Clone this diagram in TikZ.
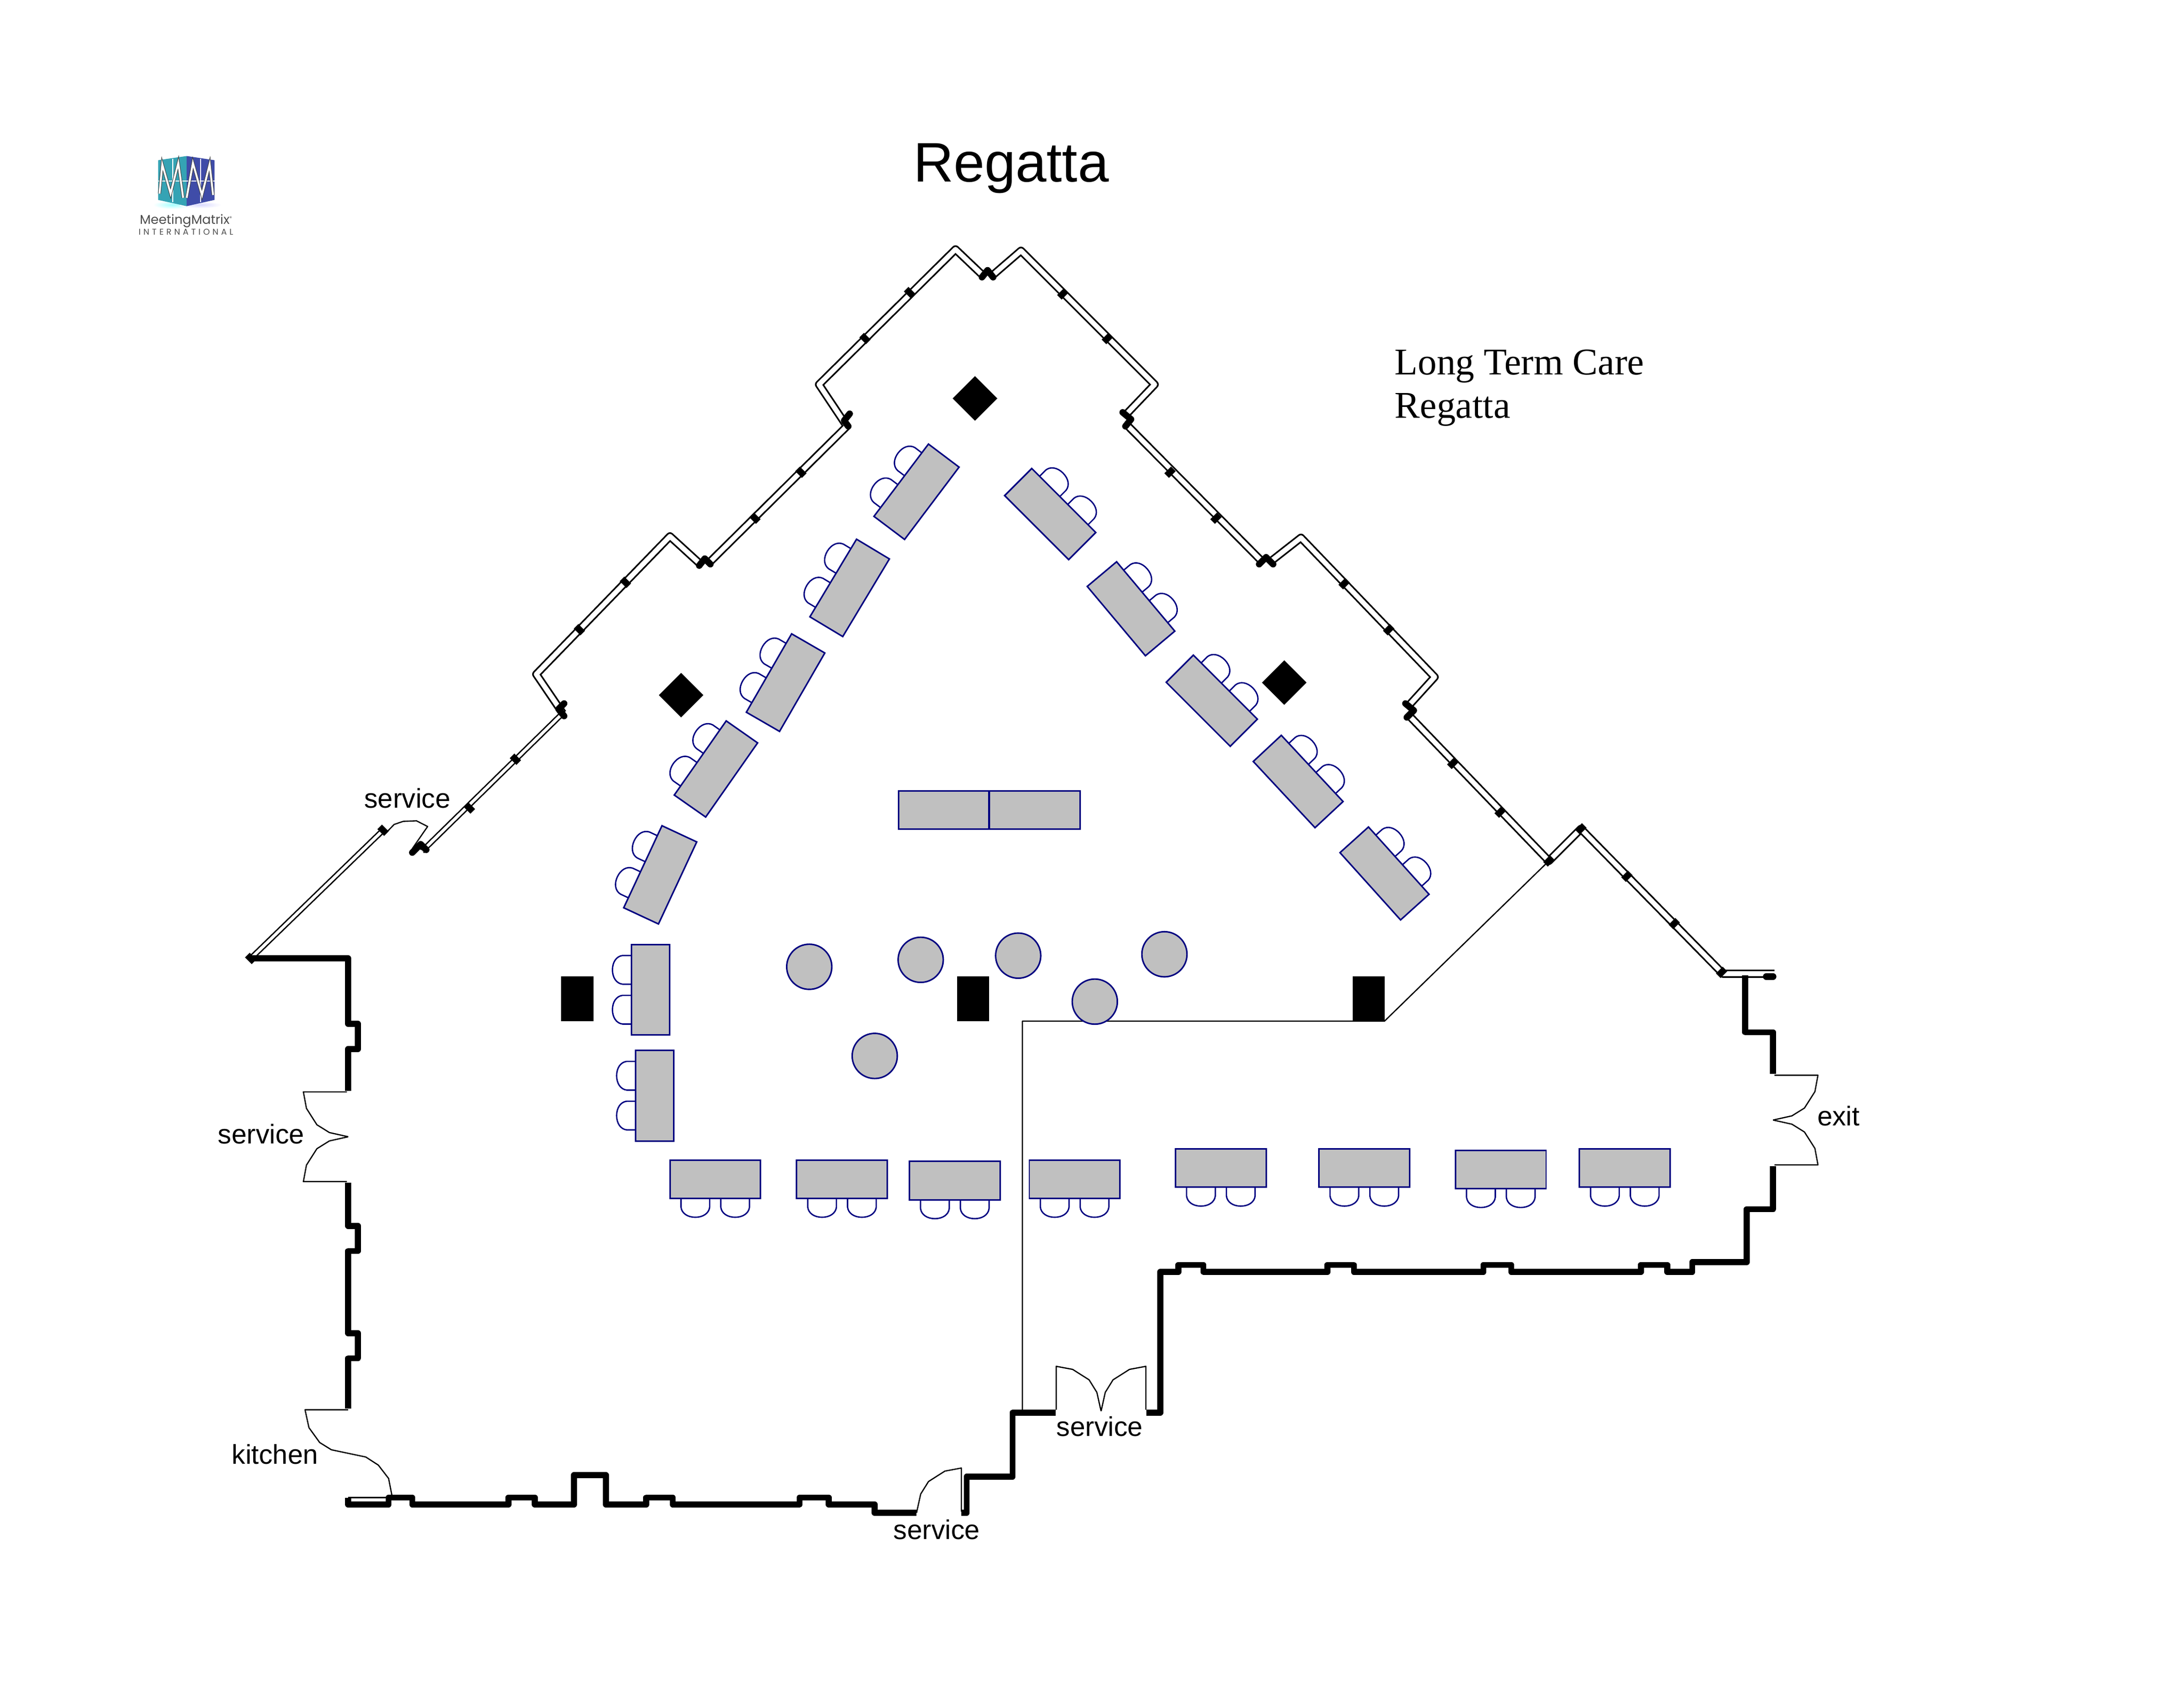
\documentclass[tikz,border=0pt]{standalone}
\usepackage{fontspec}
\setmainfont{Liberation Sans}
\newfontfamily\serifface{Liberation Serif}
\newfontfamily\logoface{Poppins}
\newfontfamily\logowide[LetterSpace=32]{Poppins}
\usetikzlibrary{positioning, calc}
\definecolor{tablegray}{HTML}{C0C0C0}
\definecolor{tableblue}{HTML}{000080}
\definecolor{cubeteal}{HTML}{35A3B4}
\definecolor{cubeblue}{HTML}{3F4CA8}
\tikzset{
	wallthick/.style={line width=2.2pt, line join=round},
	wallglass/.style={double=white, double distance=1.8pt, line width=.6pt, line join=round},
	wallnarrow/.style={double=white, double distance=1.1pt, line width=.5pt, line join=round},
	wallknot/.style={line width=2.4pt, line join=round, line cap=round},
	doorline/.style={line width=.45pt, line join=round},
	mullion/.style={fill=black, inner sep=0pt, minimum width=2.4pt, minimum height=3.5pt},
	pillar/.style={fill=black},
	tablebox/.style={draw=tableblue, fill=tablegray, line width=.55pt, inner sep=0pt, minimum width=33.3pt, minimum height=14.1pt, transform shape},
	roundtable/.style={draw=tableblue, fill=tablegray, line width=.55pt, circle, inner sep=0pt, minimum size=16.6pt},
	chairline/.style={draw=tableblue, line width=.5pt},
	roomlabel/.style={anchor=base, font=\fontsize{10}{12}\selectfont},
	notelabel/.style={anchor=base west, inner sep=0pt, font=\serifface\fontsize{13.9}{16}\selectfont},
	doorleaf/.pic={
		\draw[doorline] (0,0) -- (-13.5,-3) -- (-22.5,-8.6) -- (-30,-20.4) -- (-32.2,-32.2) -- (-1,-32.2);
	},
	tableset/.pic={
		\foreach \c in {-14.3,14.3}{
			\draw[chairline] (\c-10.3,13) -- (\c-10.3,20) .. controls (\c-9.8,24.5) and (\c-5.5,27.3) .. (\c,27.3) .. controls (\c+5.5,27.3) and (\c+9.8,24.5) .. (\c+10.3,20) -- (\c+10.3,13);
		}
		\node[tablebox] (-top) at (0,0) {};
	}
}
\begin{document}
\begin{tikzpicture}[x=0.018cm, y=-0.018cm]
	\useasboundingbox (0,0) rectangle (1568,1208.5);
	
	\shade[inner color=cyan!35, outer color=white] (124,147) ellipse (14 and 3);
	\shade[inner color=blue!15, outer color=white] (144,147) ellipse (15 and 2.5);
	\fill[cubeteal] (113.5,115) -- (134,112) -- (134,148) -- (113.5,143.5) -- cycle;
	\fill[cubeblue] (154,115) -- (134,112) -- (134,148) -- (154,143.5) -- cycle;
	\draw[white, line width=.25pt] (113.5,130) -- (154,130) (124,114) -- (124,145) (144,114) -- (144,145);
	\draw[black!75, double=white, double distance=.7pt, line width=.2pt] (114.5,139) -- (116.5,118) -- (122.5,139) -- (128,117) -- (131.5,142);
	\draw[black!75, double=white, double distance=.7pt, line width=.2pt] (134,142) -- (138.5,117) -- (145,140) -- (150.5,118) -- (153,140);
	\node[anchor=base, inner sep=0pt, text=black!70, font=\logoface\fontsize{4.7}{6}\selectfont] (logoname) at (133.5,161) {MeetingMatrix\raisebox{1.6pt}{\fontsize{1.8}{2}\selectfont ®}};
	\node[anchor=base, inner sep=0pt, text=black!70, font=\logowide\fontsize{3.1}{4}\selectfont] (logosub) at (133.5,168.5) {INTERNATIONAL};
	
	\node[anchor=base, font=\fontsize{20.5}{24}\selectfont] (title) at (726,130.5) {Regatta};
	\node[notelabel] (note1) at (1001,269) {Long Term Care};
	\node[notelabel] (note2) at (1001,300) {Regatta};
	
	\draw[wallnarrow] (180,688) -- (275,596);
	\draw[wallnarrow] (303,611) -- (404,512);
	\draw[wallglass] (404,512) -- (385,484) -- (481,385) -- (504,406);
	\draw[wallglass] (508,405) -- (608,306) -- (588,276) -- (686,179) -- (707,199);
	\draw[wallglass] (711,199) -- (733,180) -- (829,276) -- (808,298);
	\draw[wallglass] (808,304) -- (907,404);
	\draw[wallglass] (911,404) -- (934,386) -- (1030,486) -- (1010,508);
	\draw[wallglass] (1010,512) -- (1112,618) -- (1135,595) -- (1237,699) -- (1274,699);
	
	\foreach \kx/\ky/\lx/\ly/\ex/\ey in {
		296/612/302/606/306/610,
		405/505/401/509/405/514,
		502/406/506/401/510/405,
		610/297/606/302/609/306,
		705/199/709/194/713/199,
		806/296/812/301/808/306,
		904/405/909/400/914/405,
		1009/505/1015/510/1010/515}{
		\draw[wallknot] (\kx,\ky) -- (\lx,\ly) -- (\ex,\ey);
	}
	
	\foreach \mx/\my/\mang [count=\i] in {
		337/580/45, 370/545/45, 416/452/45, 449/418/45, 542/372/45, 575/339/45, 621/243/45, 653/210/45,
		763/211/-45, 795/243/-45, 840/339/-45, 873/372/-45, 965/419/-45, 997/452/-45, 1043/548/-45, 1077/583/-45, 1168/629/-45, 1202/663/-45,
		180/688/45, 275/596/45, 1112/618/-45, 1135/595/-45, 1236/698/-45}{
		\node[mullion, rotate=\mang] (bar\i) at (\mx,\my) {};
	}
	
	\draw[wallthick] (180,688) -- (250,688) -- (250,735) -- (257,735) -- (257,753) -- (250,753) -- (250,783);
	\draw[wallthick] (250,849) -- (250,880) -- (257,880) -- (257,898) -- (250,898) -- (250,957) -- (257,957) -- (257,975) -- (250,975) -- (250,1011);
	\draw[wallthick] (250,1075) -- (250,1080) -- (279,1080) -- (279,1075) -- (296,1075) -- (296,1080) -- (365,1080) -- (365,1075) -- (384,1075) -- (384,1080) -- (412,1080) -- (412,1059) -- (435,1059) -- (435,1080) -- (464,1080) -- (464,1075) -- (483,1075) -- (483,1080) -- (574,1080) -- (574,1075) -- (595,1075) -- (595,1080) -- (628,1080) -- (628,1086) -- (658,1086);
	\draw[wallthick] (690,1086) -- (694,1086) -- (694,1060) -- (727,1060) -- (727,1014) -- (758,1014);
	\draw[wallthick] (823,1014) -- (833,1014) -- (833,913) -- (846,913) -- (846,908) -- (864,908) -- (864,913) -- (953,913) -- (953,908) -- (972,908) -- (972,913) -- (1065,913) -- (1065,908) -- (1085,908) -- (1085,913) -- (1178,913) -- (1178,908) -- (1197,908) -- (1197,913) -- (1215,913) -- (1215,906) -- (1254,906) -- (1254,868) -- (1273,868) -- (1273,837);
	\draw[wallthick] (1273,771) -- (1273,741) -- (1253,741) -- (1253,700);
	\draw[wallknot] (1268,701) -- (1273,701);
	\draw[doorline] (250,1075) -- (277,1075);
	
	\draw[doorline] (734,1012) -- (734,733) -- (994,733) -- (1112,618);
	
	\pic at (250,816) {doorleaf};
	\pic[yscale=-1] at (250,816) {doorleaf};
	\pic[xscale=-1] at (1273,804) {doorleaf};
	\pic[xscale=-1, yscale=-1] at (1273,804) {doorleaf};
	\pic[rotate=-90] at (790.5,1013) {doorleaf};
	\pic[xscale=-1, rotate=-90] at (790.5,1013) {doorleaf};
	\pic[rotate=-90] at (658,1086) {doorleaf};
	\draw[doorline] (250,1012) -- (219,1012) -- (221.8,1024.8) -- (229.5,1035.5) -- (237.9,1040.7) -- (262.6,1045.9) -- (271.6,1051.7) -- (279,1061.3) -- (281.3,1073);
	\draw[doorline] (277,598) -- (283,591.8) -- (289.5,589.6) -- (299,589.2) -- (307,593.3) -- (296,609.2);
	
	\fill[pillar] (403,701) rectangle (426,733);
	\fill[pillar] (687,701) rectangle (710,733);
	\fill[pillar] (971,701) rectangle (994,733);
	\fill[pillar] (700,270) -- (716,286) -- (700,302) -- (684,286) -- cycle;
	\fill[pillar] (489,483) -- (505,499) -- (489,515) -- (473,499) -- cycle;
	\fill[pillar] (922,474) -- (938,490) -- (922,506) -- (906,490) -- cycle;
	
	\foreach \tname/\tx/\ty/\tang in {
		ta/513.5/846.5/0, tb/604.5/846.5/0, tc/685.5/847.5/0, td/771.5/846.5/0,
		te/876.5/838.5/0, tf/979.5/838.5/0, tg/1077.5/839.5/0, th/1166.5/838.5/0,
		ti/467/710.5/-90, tj/470/786.5/-90,
		tk/474/628/-115, tl/514/552/-125, tm/564/490/-120, tn/610/422/-121, to/658/353/-127,
		tp/754/369/135, tq/812/437/130, tr/870/503/135, ts/932/561/133, tt/994/627/132}{
		\pic[rotate=\tang] (\tname) at (\tx,\ty) {tableset};
	}
	
	\node[tablebox] (long1) at (677.5,581.5) {};
	\node[tablebox] (long2) at (743,581.5) {};
	
	\foreach \cname/\cx/\cy in {ca/581/694, cb/661/689, cc/731/686, cd/786/719, ce/836/685, cf/628/758}{
		\node[roundtable] (\cname) at (\cx,\cy) {};
	}
	
	\node[roomlabel] (lab1) at (292.5,580) {service};
	\node[roomlabel] (lab2) at (187.5,821) {service};
	\node[roomlabel] (lab3) at (789.5,1031) {service};
	\node[roomlabel] (lab4) at (672.5,1105) {service};
	\node[roomlabel] (lab5) at (197.5,1051) {kitchen};
	\node[roomlabel] (lab6) at (1320,808) {exit};
\end{tikzpicture}
\end{document}
